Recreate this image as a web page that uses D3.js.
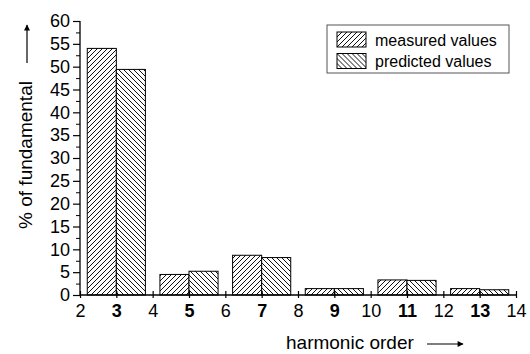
<!DOCTYPE html>
<html>
<head>
<meta charset="utf-8">
<script src="https://cdn.jsdelivr.net/npm/d3@7"></script>
<style>
    html, body { margin: 0; padding: 0; background: #fff; }
    svg { display: block; font-family: "Liberation Sans", Arial, sans-serif; }
</style>
</head>
<body>
<svg id="chart" width="530" height="354"></svg>
<script>
// harmonic orders and their amplitude (% of fundamental)
const harmonics = [3, 5, 7, 9, 11, 13];
const measured = [54.0, 4.5, 8.7, 1.4, 3.3, 1.4];
const predicted = [49.4, 5.2, 8.2, 1.4, 3.2, 1.15];
const seriesNames = ["measured values", "predicted values"];
const xTicks = [2, 3, 4, 5, 6, 7, 8, 9, 10, 11, 12, 13, 14];
const yTicks = [0, 5, 10, 15, 20, 25, 30, 35, 40, 45, 50, 55, 60];
const yMinor = [2.5, 7.5, 12.5, 17.5, 22.5, 27.5, 32.5, 37.5, 42.5, 47.5, 52.5, 57.5];

const svg = d3.select("#chart");
const margin = { top: 21, right: 14, bottom: 59, left: 80 };
const W = 530, H = 354;
const width = W - margin.left - margin.right;
const height = H - margin.top - margin.bottom;
const barW = 0.8;

const x = d3.scaleLinear().domain([2, 14]).range([0, width]);
const y = d3.scaleLinear().domain([0, 60]).range([height, 0]);

// hatch patterns
const defs = svg.append("defs");
function hatch(id, dir) {
    const s = 5;
    const p = defs.append("pattern")
        .attr("id", id)
        .attr("patternUnits", "userSpaceOnUse")
        .attr("width", s)
        .attr("height", s);
    p.append("rect").attr("width", s).attr("height", s).attr("fill", "#fff");
    const d = dir > 0
        ? `M-1,1 L1,-1 M0,${s} L${s},0 M${s - 1},${s + 1} L${s + 1},${s - 1}`
        : `M-1,${s - 1} L1,${s + 1} M0,0 L${s},${s} M${s - 1},-1 L${s + 1},1`;
    p.append("path").attr("d", d).attr("stroke", "#111").attr("stroke-width", 1);
}
hatch("hatchM", 1);
hatch("hatchP", -1);

const g = svg.append("g").attr("transform", `translate(${margin.left},${margin.top})`);

// bars
const rows = harmonics.map((h, i) => ({ h, m: measured[i], p: predicted[i] }));
g.selectAll(".barM")
    .data(rows)
    .join("rect")
    .attr("x", (d) => x(d.h - barW))
    .attr("y", (d) => y(d.m))
    .attr("width", (d) => x(d.h) - x(d.h - barW))
    .attr("height", (d) => y(0) - y(d.m))
    .attr("fill", "url(#hatchM)")
    .attr("stroke", "#000")
    .attr("stroke-width", 1);
g.selectAll(".barP")
    .data(rows)
    .join("rect")
    .attr("x", (d) => x(d.h))
    .attr("y", (d) => y(d.p))
    .attr("width", (d) => x(d.h + barW) - x(d.h))
    .attr("height", (d) => y(0) - y(d.p))
    .attr("fill", "url(#hatchP)")
    .attr("stroke", "#000")
    .attr("stroke-width", 1);

// y axis
const yAxis = g.append("g")
    .call(d3.axisLeft(y).tickValues(yTicks).tickSize(7).tickPadding(3));
g.append("g")
    .call(d3.axisLeft(y).tickValues(yMinor).tickSize(4).tickFormat(""))
    .select(".domain").remove();

// x axis
const xAxis = g.append("g")
    .attr("transform", `translate(0,${height})`)
    .call(d3.axisBottom(x).tickValues(xTicks).tickSize(3).tickPadding(6));
xAxis.selectAll(".tick line").attr("y1", -4);
xAxis.selectAll(".tick text")
    .attr("font-weight", (d) => (harmonics.includes(d) ? "bold" : "normal"));

[yAxis, xAxis].forEach((a) => {
    a.select(".domain").attr("stroke-width", 1.3);
    a.selectAll(".tick line").attr("stroke-width", 1.2);
    a.selectAll("text")
        .attr("font-size", "18px")
        .attr("font-family", "Liberation Sans, Arial, sans-serif")
        .attr("fill", "#000");
});
yAxis.select(".domain").attr("d", `M0,${height}V0`);
xAxis.select(".domain").attr("d", `M0,0H${width}`);

// arrow marker
defs.append("marker")
    .attr("id", "arrow")
    .attr("viewBox", "0 0 10 10")
    .attr("refX", 9)
    .attr("refY", 5)
    .attr("markerWidth", 9)
    .attr("markerHeight", 6)
    .attr("markerUnits", "userSpaceOnUse")
    .attr("orient", "auto")
    .append("path")
    .attr("d", "M0,0 L10,5 L0,10 Z")
    .attr("fill", "#000");

// axis titles
svg.append("text")
    .attr("transform", "translate(32,155) rotate(-90)")
    .attr("text-anchor", "middle")
    .attr("font-size", "19px")
    .text("% of fundamental");
svg.append("line")
    .attr("x1", 27).attr("y1", 63).attr("x2", 27).attr("y2", 25)
    .attr("stroke", "#000").attr("stroke-width", 1.2)
    .attr("marker-end", "url(#arrow)");

svg.append("text")
    .attr("x", 286)
    .attr("y", 349)
    .attr("font-size", "19px")
    .text("harmonic order");
svg.append("line")
    .attr("x1", 427).attr("y1", 344).attr("x2", 463).attr("y2", 344)
    .attr("stroke", "#000").attr("stroke-width", 1.2)
    .attr("marker-end", "url(#arrow)");

// legend
const legend = svg.append("g").attr("transform", "translate(327,25)");
legend.append("rect")
    .attr("width", 182).attr("height", 48)
    .attr("fill", "#fff").attr("stroke", "#555").attr("stroke-width", 1);
seriesNames.forEach((name, i) => {
    const row = legend.append("g").attr("transform", `translate(10,${7 + i * 21.5})`);
    row.append("rect")
        .attr("width", 29).attr("height", 15)
        .attr("fill", i === 0 ? "url(#hatchM)" : "url(#hatchP)")
        .attr("stroke", "#000").attr("stroke-width", 1);
    row.append("text")
        .attr("x", 38).attr("y", 13.5)
        .attr("font-size", "16px")
        .text(name);
});
</script>
</body>
</html>
